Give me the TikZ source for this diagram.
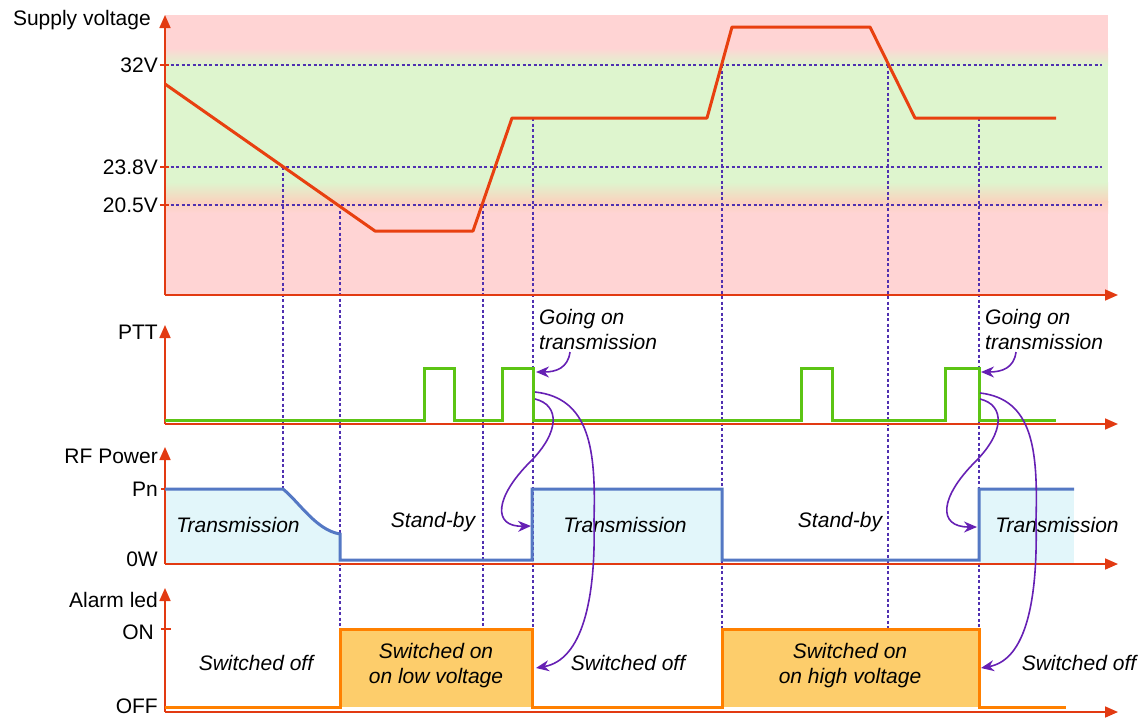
\documentclass[tikz,border=0pt]{standalone}
\usepackage{fontspec}
\setmainfont{Liberation Sans}
\usetikzlibrary{arrows.meta}
\definecolor{axisred}{RGB}{226,58,18}
\definecolor{voltred}{RGB}{232,64,16}
\definecolor{bgred}{RGB}{255,212,212}
\definecolor{bggreen}{RGB}{222,245,206}
\definecolor{bgtan}{RGB}{228,214,196}
\definecolor{bgpeach}{RGB}{250,210,190}
\definecolor{guidecol}{RGB}{80,48,176}
\definecolor{pttgreen}{RGB}{92,196,20}
\definecolor{rfblue}{RGB}{84,120,196}
\definecolor{rffill}{RGB}{226,246,250}
\definecolor{ledorange}{RGB}{255,128,0}
\definecolor{ledfill}{RGB}{253,205,107}
\definecolor{arrpurple}{RGB}{102,32,180}
\begin{document}
\begin{tikzpicture}[x=1pt,y=-1pt,
  axis/.style={draw=axisred,line width=1.7pt,-{Triangle[length=13pt,width=11pt]}},
  tickln/.style={draw=axisred,line width=1.6pt},
  guide/.style={draw=guidecol,line width=1.3pt,dash pattern=on 3pt off 2.5pt},
  axlabel/.style={anchor=east,inner sep=0pt,font=\fontsize{21}{25}\selectfont},
  itlabel/.style={inner sep=0pt,align=center,font=\fontsize{21}{25}\selectfont\itshape},
  volt/.style={draw=voltred,line width=3pt,line join=round},
  ptt/.style={draw=pttgreen,line width=3pt},
  rf/.style={draw=rfblue,line width=3pt},
  led/.style={draw=ledorange,line width=3pt},
  cause/.style={draw=arrpurple,line width=1.6pt,-{Stealth[length=13pt,width=11pt]}}]
\useasboundingbox (0,0) rectangle (1144,718);
% ---------- supply voltage background bands
\fill[bgred] (165,15) rectangle (1108,295);
\fill[bggreen] (165,64) rectangle (1108,183);
\shade[top color=bgred,middle color=bgtan,bottom color=bggreen] (165,48) rectangle (1108,65);
\shade[top color=bggreen,middle color=bgtan,bottom color=bgpeach] (165,182) rectangle (1108,202);
\shade[top color=bgpeach,bottom color=bgred] (165,201) rectangle (1108,213);
% ---------- fills
\fill[rffill] (165,564) -- (165,489) -- (283,489) .. controls (300,503) and (316,530) .. (340,534) -- (340,564) -- cycle;
\fill[rffill] (532,489) rectangle (722,564);
\fill[rffill] (979,489) rectangle (1074,564);
\fill[ledfill] (340,629) rectangle (532,707);
\fill[ledfill] (722,629) rectangle (979,707);
% ---------- guide lines
\draw[guide] (165,65) -- (1102,65);
\draw[guide] (165,167) -- (1102,167);
\draw[guide] (165,205) -- (1102,205);
\coordinate (c1) at (283,167); \coordinate (e1) at (283,489);
\coordinate (c2) at (340,205); \coordinate (e2) at (340,629);
\coordinate (c3) at (483,205); \coordinate (e3) at (483,629);
\coordinate (c4) at (533,118); \coordinate (e4) at (533,629);
\coordinate (c5) at (722,65);  \coordinate (e5) at (722,629);
\coordinate (c6) at (888,65);  \coordinate (e6) at (888,629);
\coordinate (c7) at (979,118); \coordinate (e7) at (979,629);
\foreach \i in {1,...,7} {\draw[guide] (c\i) -- (e\i);}
% ---------- axes
\draw[axis] (165,295) -- (1118,295);
\draw[axis] (165,295) -- (165,15);
\draw[axis] (165,424) -- (1118,424);
\draw[axis] (165,424) -- (165,325);
\draw[axis] (165,564) -- (1118,564);
\draw[axis] (165,564) -- (165,447);
\draw[axis] (165,712) -- (1118,712);
\draw[axis] (165,712) -- (165,588);
\foreach \y in {65,167,205} {\draw[tickln] (160,\y) -- (169,\y);}
\draw[tickln] (161,489) -- (170,489);
\draw[tickln] (161,629) -- (171,629);
% ---------- axis labels
\node[axlabel] (lsv) at (151,20) {Supply voltage};
\node[axlabel] (l32) at (158,65) {32V};
\node[axlabel] (l238) at (158,167) {23.8V};
\node[axlabel] (l205) at (158,205) {20.5V};
\node[axlabel] (lptt) at (158,332) {PTT};
\node[axlabel] (lrf) at (158,456) {RF Power};
\node[axlabel] (lpn) at (158,489) {Pn};
\node[axlabel] (l0w) at (158,559) {0W};
\node[axlabel] (lal) at (158,600) {Alarm led};
\node[axlabel] (lon) at (154,632) {ON};
\node[axlabel] (loff) at (158,706) {OFF};
% ---------- signals
\draw[volt] (165,84) -- (375,231) -- (473,231) -- (512,118) -- (707,118) -- (732,27) -- (870,27) -- (915,118) -- (1056,118);
\draw[ptt] (165,420) -- (424,420) -- (424,368) -- (454,368) -- (454,420) -- (502,420) -- (502,368) -- (533,368) -- (533,420) -- (801,420) -- (801,368) -- (832,368) -- (832,420) -- (945,420) -- (945,368) -- (979,368) -- (979,420) -- (1056,420);
\draw[rf] (165,489) -- (283,489) .. controls (300,503) and (316,530) .. (340,534) -- (340,560) -- (532,560) -- (532,489) -- (722,489) -- (722,560) -- (979,560) -- (979,489) -- (1074,489);
\draw[led] (165,707) -- (340,707) -- (340,629) -- (532,629) -- (532,707) -- (722,707) -- (722,629) -- (979,629) -- (979,707) -- (1066,707);
% ---------- state labels
\node[itlabel] (t1) at (238,525) {Transmission};
\node[itlabel] (s1) at (433,522) {Stand-by};
\node[itlabel] (t2) at (625,525) {Transmission};
\node[itlabel] (s2) at (840,522) {Stand-by};
\node[itlabel] (t3) at (1057,525) {Transmission};
\node[itlabel] (o1) at (256,663) {Switched off};
\node[itlabel] (n1) at (436,666) {Switched on\\on low voltage};
\node[itlabel] (o2) at (628,663) {Switched off};
\node[itlabel] (n2) at (850,666) {Switched on\\on high voltage};
\node[itlabel] (o3) at (1079,663) {Switched off};
\node[itlabel,align=left,anchor=west] (g1) at (539,329) {Going on\\transmission};
\node[itlabel,align=left,anchor=west] (g2) at (985,329) {Going on\\transmission};
% ---------- cause arrows
\coordinate (a1s) at (570,352); \coordinate (a1e) at (536,372);
\coordinate (a2s) at (1016,352); \coordinate (a2e) at (981,372);
\draw[cause] (a1s) .. controls (568,368) and (556,372) .. (a1e);
\draw[cause] (a2s) .. controls (1014,368) and (1002,372) .. (a2e);
\coordinate (p1a) at (535,392); \coordinate (p1b) at (535,399);
\coordinate (r1) at (531,526); \coordinate (al1) at (536,668);
\draw[cause] (p1a) .. controls (590,398) and (596,450) .. (594,520) .. controls (596,600) and (582,660) .. (al1);
\draw[cause] (p1b) .. controls (560,405) and (560,432) .. (530,462) .. controls (495,497) and (492,527) .. (r1);
\coordinate (p2a) at (980,393); \coordinate (p2b) at (980,399);
\coordinate (r2) at (977,527); \coordinate (al2) at (981,668);
\draw[cause] (p2a) .. controls (1033,399) and (1038,450) .. (1036,520) .. controls (1038,600) and (1026,660) .. (al2);
\draw[cause] (p2b) .. controls (1005,405) and (1005,432) .. (975,462) .. controls (940,497) and (937,527) .. (r2);
\end{tikzpicture}
\end{document}
